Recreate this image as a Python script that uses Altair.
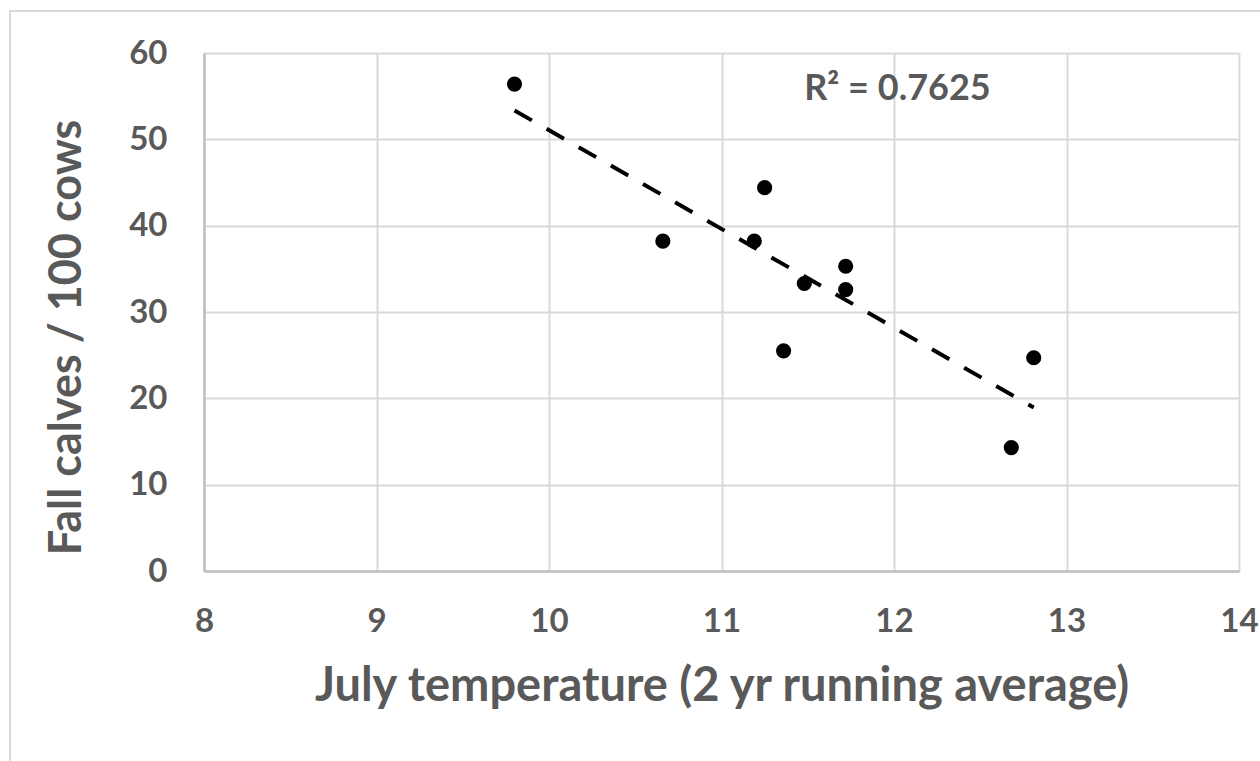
import altair as alt
import pandas as pd

# July temperature (2 yr running average) vs. fall calves per 100 cows
temperature = [9.80, 10.66, 11.19, 11.25, 11.48, 11.72, 11.72, 11.36, 12.68, 12.81]
fall_calves = [56.4, 38.2, 38.2, 44.4, 33.3, 35.3, 32.6, 25.5, 14.3, 24.7]

x_ticks = [8, 9, 10, 11, 12, 13, 14]
y_ticks = [0, 10, 20, 30, 40, 50, 60]
r_squared_text = "R² = 0.7625"

points = pd.DataFrame({"temp": temperature, "calves": fall_calves})

TEXT = "#595959"
GRID = "#d9d9d9"
FONT = "Lato"

x_scale = alt.Scale(domain=[8, 14], nice=False, zero=False)
y_scale = alt.Scale(domain=[0, 60], nice=False, zero=True)

x_enc = alt.X(
    "temp:Q",
    scale=x_scale,
    axis=alt.Axis(
        values=x_ticks,
        format="d",
        title="July temperature (2 yr running average)",
        labelPadding=34,
        labelFlush=False,
        titleY=129,
        titleFontSize=47,
        titleBaseline="alphabetic",
    ),
)
y_enc = alt.Y(
    "calves:Q",
    scale=y_scale,
    axis=alt.Axis(
        values=y_ticks,
        format="d",
        title="Fall calves / 100 cows",
        labelPadding=37,
        labelFlush=False,
        titleX=-124,
        titleY=284,
        titleFontSize=45,
        titleBaseline="alphabetic",
        titleAlign="center",
    ),
)

base = alt.Chart(points)

scatter = base.mark_circle(size=230, color="black", opacity=1).encode(x=x_enc, y=y_enc)

trend = (
    base.transform_regression("temp", "calves")
    .mark_line(color="black", strokeWidth=4, strokeDash=[20, 17], strokeCap="butt")
    .encode(x=alt.X("temp:Q", scale=x_scale), y=alt.Y("calves:Q", scale=y_scale))
)

label = (
    alt.Chart(pd.DataFrame({"t": [r_squared_text]}))
    .mark_text(font=FONT, fontSize=36, fontWeight="bold", color=TEXT,
               align="center", baseline="alphabetic")
    .encode(
        x=alt.X(datum=12.02, type="quantitative", scale=x_scale),
        y=alt.Y(datum=54.6, type="quantitative", scale=y_scale),
        text="t:N",
    )
)

# light outer border around the whole chart area
frame = (
    alt.Chart(pd.DataFrame({"k": [0]}))
    .mark_rect(fill="transparent", stroke=GRID, strokeWidth=2)
    .encode(x=alt.value(-194), x2=alt.value(1100), y=alt.value(-42), y2=alt.value(800))
)

chart = (
    alt.layer(frame, trend, scatter, label)
    .properties(
        width=1035,
        height=518,
        autosize=alt.AutoSizeParams(type="none"),
        padding={"left": 204, "top": 53, "right": 21, "bottom": 190},
        background="white",
    )
    .configure_view(strokeWidth=0)
    .configure_axis(
        grid=True,
        gridColor=GRID,
        gridWidth=2,
        domainColor="#bfbfbf",
        domainWidth=2.5,
        ticks=False,
        tickSize=0,
        labelFont=FONT,
        labelFontSize=33,
        labelFontWeight="bold",
        labelColor=TEXT,
        titleFont=FONT,
        titleFontWeight="bold",
        titleColor=TEXT,
    )
)

chart.save("out.html", embed_options={"renderer": "svg", "actions": False})
